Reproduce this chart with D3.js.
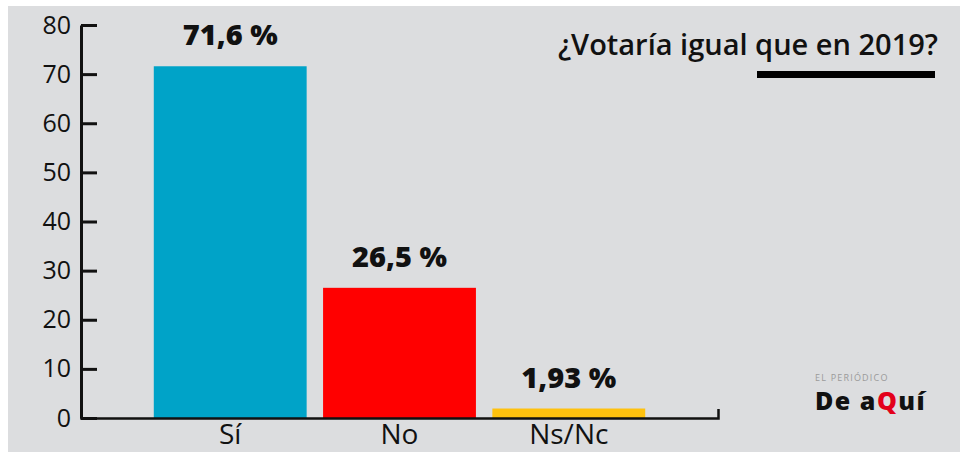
<!DOCTYPE html>
<html>
<head>
<meta charset="utf-8">
<script src="https://cdn.jsdelivr.net/npm/d3@7"></script>
<style>
  html, body { margin: 0; padding: 0; background: #ffffff; }
  svg { display: block; }
</style>
</head>
<body>
<svg id="chart" width="960" height="452"></svg>
<script>
const categories = ["Sí", "No", "Ns/Nc"];
const values = [71.6, 26.5, 1.93];
const valueLabels = ["71,6 %", "26,5 %", "1,93 %"];
const colors = ["#00a3c8", "#ff0000", "#ffc20e"];
const yTicks = [0, 10, 20, 30, 40, 50, 60, 70, 80];
const title = "¿Votaría igual que en 2019?";

const svg = d3.select("#chart");
const W = 960, H = 452;

svg.append("rect").attr("x", 8).attr("y", 6).attr("width", W - 8).attr("height", H - 6).attr("fill", "#dcdddf");

const x = d3.scaleBand().domain(categories).range([81, 718]).paddingInner(0.097).paddingOuter(0.43);
const y = d3.scaleLinear().domain([0, 80]).range([418, 25]);

// bars
svg.append("g").selectAll("rect").data(categories).join("rect")
  .attr("x", d => x(d))
  .attr("width", x.bandwidth())
  .attr("y", (d, i) => y(values[i]))
  .attr("height", (d, i) => y(0) - y(values[i]))
  .attr("fill", (d, i) => colors[i]);

// value labels
svg.append("g").selectAll("text").data(categories).join("text")
  .attr("x", d => x(d) + x.bandwidth() / 2)
  .attr("y", (d, i) => y(values[i]) - 21)
  .attr("text-anchor", "middle")
  .attr("font-family", "'Open Sans', sans-serif")
  .attr("font-weight", 800)
  .attr("font-size", 29)
  .attr("fill", "#111")
  .text((d, i) => valueLabels[i]);

// y axis
const yAxis = svg.append("g").attr("transform", "translate(81,0)")
  .call(d3.axisLeft(y).tickValues(yTicks).tickSizeInner(-16).tickSizeOuter(0).tickPadding(10));
yAxis.select(".domain").attr("stroke", "#111").attr("stroke-width", 3);
yAxis.selectAll(".tick line").attr("stroke", "#111").attr("stroke-width", 3);
yAxis.selectAll(".tick text").attr("font-family", "'Open Sans', sans-serif").attr("font-size", 25).attr("fill", "#111");

// x axis
const xAxis = svg.append("g").attr("transform", "translate(0,418)")
  .call(d3.axisBottom(x).tickSizeInner(0).tickSizeOuter(-9));
xAxis.select(".domain").attr("stroke", "#111").attr("stroke-width", 2.5);
xAxis.selectAll(".tick text")
  .attr("y", 26).attr("dy", 0)
  .attr("font-family", "'Open Sans', sans-serif").attr("font-size", 28).attr("fill", "#111");

// title
svg.append("text").attr("x", 938).attr("y", 55).attr("text-anchor", "end")
  .attr("font-family", "'Open Sans', sans-serif").attr("font-weight", 600).attr("font-size", 29)
  .attr("fill", "#111").text(title);
svg.append("rect").attr("x", 757).attr("y", 71).attr("width", 178).attr("height", 7).attr("fill", "#000");

// logo
svg.append("text").attr("x", 815).attr("y", 381)
  .attr("font-family", "'Open Sans', sans-serif").attr("font-size", 9).attr("fill", "#9a9a9a")
  .attr("letter-spacing", 1.2).text("EL PERIÓDICO");
const logo = svg.append("text").attr("x", 815).attr("y", 410)
  .attr("font-family", "'Open Sans', sans-serif").attr("font-weight", 800).attr("font-size", 25)
  .attr("letter-spacing", 1.5).attr("fill", "#111");
logo.append("tspan").text("De a");
logo.append("tspan").attr("fill", "#e3001b").text("Q");
logo.append("tspan").text("uí");
</script>
</body>
</html>
